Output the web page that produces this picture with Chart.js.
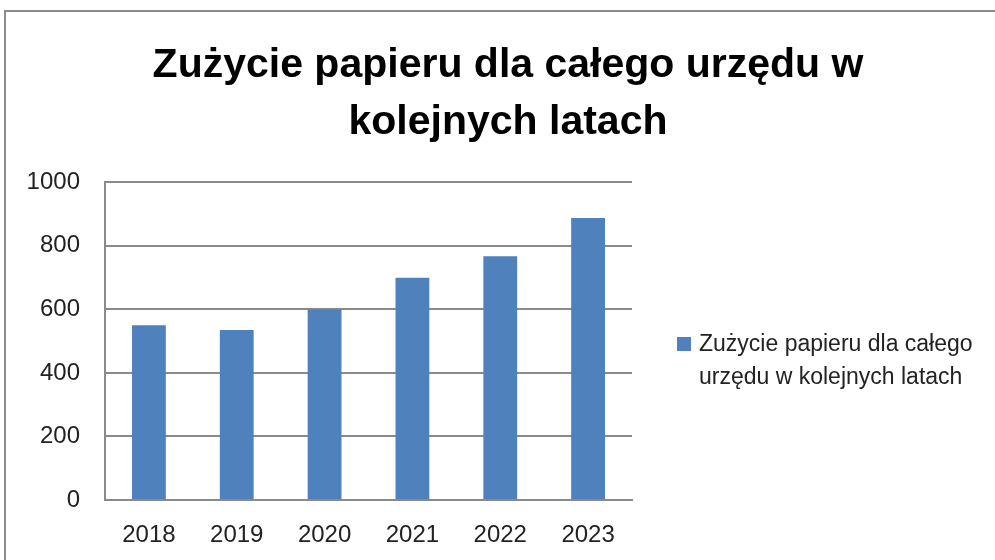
<!DOCTYPE html>
<html>
<head>
<meta charset="utf-8">
<script src="https://cdn.jsdelivr.net/npm/chart.js@4.4.0/dist/chart.umd.min.js"></script>
<style>
  html, body { margin: 0; padding: 0; background: #fff; }
  body { width: 995px; height: 560px; position: relative; overflow: hidden; }
  #frame {
    position: absolute; left: 4px; top: 10px; width: 1010px; height: 600px;
    border-left: 2px solid #8a8a8a; border-top: 2px solid #8a8a8a;
  }
  #chart { position: absolute; left: 0; top: 0; }
  #legend {
    position: absolute; left: 677px; top: 327px; width: 310px;
    font-family: "Liberation Sans", Arial, sans-serif; font-size: 23px; line-height: 33px; color: #222;
  }
  #legend .box {
    position: absolute; left: 0; top: 10px; width: 14px; height: 14px; background: #4f81bd;
  }
  #legend .text { margin-left: 22px; width: 285px; }
</style>
</head>
<body>
<div id="frame"></div>
<canvas id="chart" width="995" height="560"></canvas>
<div id="legend"><span class="box"></span><div class="text"></div></div>
<script>
// ── DATA ────────────────────────────────────────────
const titleLines = ['Zużycie papieru dla całego urzędu w', 'kolejnych latach'];
const seriesName = 'Zużycie papieru dla całego urzędu w kolejnych latach';
const years      = ['2018', '2019', '2020', '2021', '2022', '2023'];
const paperUsage = [550, 535, 600, 700, 767, 888];
const yTicks     = [0, 200, 400, 600, 800, 1000];

const BAR_COLOR  = '#4f81bd';
const GRID_COLOR = '#8a8a8a';
const FONT       = "'Liberation Sans', Arial, sans-serif";

document.querySelector('#legend .text').textContent = seriesName;

new Chart(document.getElementById('chart'), {
  type: 'bar',
  data: {
    labels: years,
    datasets: [{
      label: seriesName,
      data: paperUsage,
      backgroundColor: BAR_COLOR,
      borderWidth: 0,
      barPercentage: 0.385,
      categoryPercentage: 1,
    }]
  },
  options: {
    responsive: false,
    animation: false,
    layout: { padding: { left: 21, right: 0, top: 0, bottom: 0 } },
    scales: {
      x: {
        grid: { display: false, drawTicks: false },
        border: { display: true, color: GRID_COLOR, width: 2 },
        ticks: { color: '#222', font: { family: FONT, size: 24 }, padding: 21 },
        afterFit: (s) => { s.height = 60; },
      },
      y: {
        min: 0,
        max: 1000,
        afterBuildTicks: (axis) => { axis.ticks = yTicks.map(v => ({ value: v })); },
        grid: { color: GRID_COLOR, lineWidth: 2, drawTicks: false },
        border: { display: true, color: GRID_COLOR, width: 2 },
        ticks: { color: '#222', font: { family: FONT, size: 24 }, padding: 25, callback: (v) => String(v) },
        afterFit: (s) => { s.width = 84; },
      },
      // empty right-hand axis: keeps the space where the legend sits
      side: {
        position: 'right',
        grid: { display: false, drawTicks: false },
        border: { display: false },
        ticks: { display: false },
        afterFit: (s) => { s.width = 363; },
      }
    },
    plugins: {
      legend: { display: false },
      tooltip: { enabled: false },
      title: {
        display: true,
        text: titleLines,
        color: '#000',
        font: { family: FONT, size: 41, weight: 'bold', lineHeight: 1.37 },
        padding: { top: 38, bottom: 32 },
      }
    }
  }
});
</script>
</body>
</html>
